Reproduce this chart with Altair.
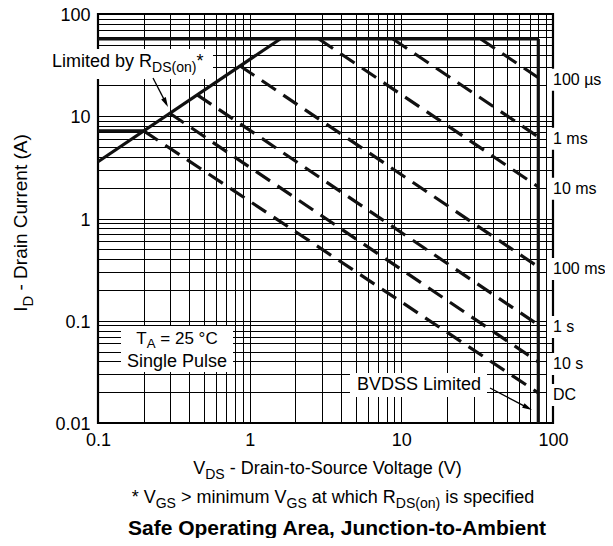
import math
import altair as alt
import pandas as pd

# ---------------- data ----------------
pulse_labels = ["100 µs", "1 ms", "10 ms", "100 ms", "1 s", "10 s", "DC"]
pulse_start_v = [33.4, 8.8, 2.86, 0.866, 0.451, 0.297, 0.2]
pulse_start_i = [57.0, 57.0, 57.0, 31.0, 16.2, 10.7, 7.2]
pulse_end_i = [23.8, 6.29, 2.04, 0.336, 0.091, 0.0396, 0.0197]
bvdss_v = 80.0

# boundary segments: R_DS(on) limit, current limit, BVDSS limit, DC left part
limit_v0 = [0.1, 0.1, 80.0, 0.1]
limit_v1 = [1.59, 80.0, 80.0, 0.2]
limit_i0 = [3.59, 57.0, 57.0, 7.2]
limit_i1 = [57.0, 57.0, 0.01, 7.2]

x_ticks = [0.1, 1, 10, 100]
y_ticks = [0.01, 0.1, 1, 10, 100]

# ---------------- layout ----------------
FONT = "Liberation Sans"
W, H = 455, 409
PAD_L, PAD_T, PAD_R, PAD_B = 90, 6, 52, 115
OX, OY = 8 + PAD_L, 8 + PAD_T   # page position of plot origin


def grid_values(ticks):
    vals = []
    for t in ticks[:-1]:
        for k in range(1, 10):
            vals.append(round(k * t, 6))
    vals.append(ticks[-1])
    return vals


AW = {' ': 278, '-': 333, '*': 389, '>': 584, '(': 333, ')': 333, '.': 278, ',': 278,
      '=': 584, '°': 400, 'µ': 576,
      'A': 667, 'B': 667, 'C': 722, 'D': 722, 'E': 667, 'F': 611, 'G': 778, 'H': 722,
      'I': 278, 'J': 500, 'K': 667, 'L': 556, 'M': 833, 'N': 722, 'O': 778, 'P': 667,
      'Q': 778, 'R': 722, 'S': 667, 'T': 611, 'U': 722, 'V': 667, 'W': 944, 'X': 667,
      'Y': 667, 'Z': 611,
      'a': 556, 'b': 556, 'c': 500, 'd': 556, 'e': 556, 'f': 278, 'g': 556, 'h': 556,
      'i': 222, 'j': 222, 'k': 500, 'l': 222, 'm': 833, 'n': 556, 'o': 556, 'p': 556,
      'q': 556, 'r': 333, 's': 500, 't': 278, 'u': 556, 'v': 500, 'w': 722, 'x': 500,
      'y': 500, 'z': 500}


def text_w(s, size):
    return sum(AW.get(c, 556) for c in s) * size / 1000.0


def seq(parts, size, base, start=None, center=None, angle=0, sub_scale=0.78, drop=0.3):
    sizes = [size * sub_scale if k == 'sub' else size for _, k in parts]
    widths = [text_w(t, fs) for (t, _), fs in zip(parts, sizes)]
    total = sum(widths)
    if angle == 0:
        pos = start if start is not None else center - total / 2
    else:
        pos = start if start is not None else center + total / 2
    out = []
    for (t, k), fs, w in zip(parts, sizes, widths):
        lead = text_w(t[:len(t) - len(t.lstrip())], fs)
        off = size * drop if k == 'sub' else 0
        if angle == 0:
            out.append(dict(x=pos + lead, y=base + off, text=t.strip(), size=fs, angle=0))
            pos += w
        else:
            out.append(dict(x=base + off, y=pos - lead, text=t.strip(), size=fs, angle=270))
            pos -= w
    return out


texts = []
texts += seq([("I", 'n'), ("D", 'sub'), (" - Drain Current (A)", 'n')], 19, base=27, center=223, angle=270)
texts += seq([("V", 'n'), ("DS", 'sub'), (" - Drain-to-Source Voltage (V)", 'n')], 18, base=474, center=328)
texts += seq([("* V", 'n'), ("GS", 'sub'), (" > minimum V", 'n'), ("GS", 'sub'),
              (" at which R", 'n'), ("DS(on)", 'sub'), (" is specified", 'n')], 18, base=503, center=333)
texts += seq([("Limited by R", 'n'), ("DS(on)", 'sub'), ("*", 'n')], 18, base=67, start=52)
texts += seq([("T", 'n'), ("A", 'sub'), (" = 25 °C", 'n')], 17, base=344, center=177, drop=0.26)
texts += seq([("Single Pulse", 'n')], 18, base=367, center=177)
texts += seq([("BVDSS Limited", 'n')], 18, base=390, center=419)
title_piece = dict(x=337, y=535, text="Safe Operating Area, Junction-to-Ambient", size=21)

boxes = [(47, 49, 213, 79), (121, 326, 233, 372), (350, 373, 487, 397)]
arrows = [((153, 78), (168, 107)), ((490, 388), (532, 410))]

# ---------------- scales & axes ----------------
xs = alt.Scale(type='log', domain=[0.1, 100], nice=False)
ys = alt.Scale(type='log', domain=[0.01, 100], nice=False)

common_axis = dict(grid=True, gridColor='black', gridWidth=1, gridOpacity=1, ticks=False,
                   domain=False, labelFont=FONT, labelFontSize=18, labelColor='black',
                   labelFlush=False, labelOverlap=False, title=None, format='~g')
xaxis = alt.Axis(values=grid_values(x_ticks), labelPadding=8,
                 labelExpr=f"indexof({x_ticks}, datum.value) >= 0 ? datum.label : ''", **common_axis)
yaxis = alt.Axis(values=grid_values(y_ticks), labelPadding=8, labelOffset=1.5,
                 labelExpr=f"indexof({y_ticks}, datum.value) >= 0 ? datum.label : ''", **common_axis)

pulse_df = pd.DataFrame({"label": pulse_labels, "v0": pulse_start_v, "i0": pulse_start_i,
                         "v1": [bvdss_v] * len(pulse_labels), "i1": pulse_end_i})
limit_df = pd.DataFrame({"v0": limit_v0, "v1": limit_v1, "i0": limit_i0, "i1": limit_i1})
one = pd.DataFrame({"a": [0]})

layers = []
layers.append(alt.Chart(pulse_df).mark_rule(color='#111', strokeWidth=3.2, strokeDash=[17, 9],
                                            strokeCap='butt').encode(
    x=alt.X('v0:Q', scale=xs, axis=xaxis), x2='v1:Q',
    y=alt.Y('i0:Q', scale=ys, axis=yaxis), y2='i1:Q'))
layers.append(alt.Chart(limit_df).mark_rule(color='#111', strokeWidth=3.2).encode(
    x=alt.X('v0:Q', scale=xs, axis=xaxis), x2='v1:Q',
    y=alt.Y('i0:Q', scale=ys, axis=yaxis), y2='i1:Q'))

for (x0, y0, x1, y1) in boxes:
    layers.append(alt.Chart(one).mark_rect(color='white').encode(
        x=alt.value(x0 - OX), x2=alt.value(x1 - OX), y=alt.value(y0 - OY), y2=alt.value(y1 - OY)))

# white boxes behind right-hand labels
layers.append(alt.Chart(pulse_df).mark_rect(color='white', yOffset=-9, y2Offset=13).encode(
    x=alt.value(547 - OX), x2=alt.value(606 - OX),
    y=alt.Y('i1:Q', scale=ys, axis=yaxis), y2='i1:Q'))
layers.append(alt.Chart(pulse_df).mark_text(font=FONT, fontSize=16, align='left', baseline='middle',
                                            dy=2, color='black').encode(
    x=alt.value(553 - OX), y=alt.Y('i1:Q', scale=ys, axis=yaxis), text='label:N'))

for (a, b) in arrows:
    dx, dy = b[0] - a[0], b[1] - a[1]
    ang = math.degrees(math.atan2(-dx, dy)) % 360
    layers.append(alt.Chart(one).mark_rule(color='black', strokeWidth=1.3).encode(
        x=alt.value(a[0] - OX), x2=alt.value(b[0] - OX - dx * 0.1),
        y=alt.value(a[1] - OY), y2=alt.value(b[1] - OY - dy * 0.1)))
    layers.append(alt.Chart(one).mark_point(shape="M0,0L-0.42,-1.6L0.42,-1.6Z", filled=True,
                                            color='black', opacity=1, size=150, angle=ang).encode(
        x=alt.value(b[0] - OX), y=alt.value(b[1] - OY)))

for t in texts:
    layers.append(alt.Chart(one).mark_text(text=t['text'], font=FONT, fontSize=t['size'],
                                           angle=t['angle'], align='left', baseline='alphabetic',
                                           color='black').encode(
        x=alt.value(t['x'] - OX), y=alt.value(t['y'] - OY)))
layers.append(alt.Chart(one).mark_text(text=title_piece['text'], font=FONT, fontSize=title_piece['size'],
                                       fontWeight='bold', align='center', baseline='alphabetic',
                                       color='black').encode(
    x=alt.value(title_piece['x'] - OX), y=alt.value(title_piece['y'] - OY)))

chart = alt.layer(*layers).properties(
    width=W, height=H,
    autosize=alt.AutoSizeParams(type='none'),
    padding={"left": PAD_L, "top": PAD_T, "right": PAD_R, "bottom": PAD_B},
    background='white',
).configure_view(stroke='black', strokeWidth=2.2)

chart.save("out.html", embed_options={"renderer": "svg", "actions": False})
